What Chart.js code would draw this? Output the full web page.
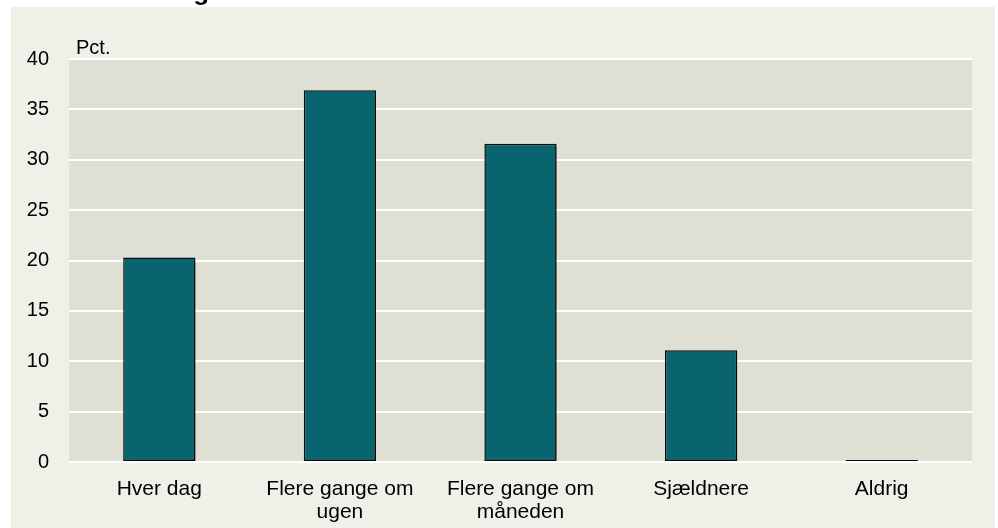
<!DOCTYPE html>
<html>
<head>
<meta charset="utf-8">
<script src="https://cdn.jsdelivr.net/npm/chart.js@4.4.1/dist/chart.umd.min.js"></script>
<style>
html,body{margin:0;padding:0;background:#fff;}
#wrap{width:998px;height:528px;}
</style>
</head>
<body>
<div id="wrap"><canvas id="c" width="998" height="528"></canvas></div>
<script>
const categories = [["Hver dag"], ["Flere gange om", "ugen"], ["Flere gange om", "måneden"], ["Sjældnere"], ["Aldrig"]];
const values = [20.3, 36.9, 31.6, 11.1, 0.2];
const yTicks = [0, 5, 10, 15, 20, 25, 30, 35, 40];
const unitLabel = "Pct.";
const titleText = "Hvor ofte bruger du naturen";

const font = '"Liberation Sans", Arial, sans-serif';

const backdrop = {
    id: 'backdrop',
    beforeDraw(chart){
        const ctx = chart.ctx;
        const a = chart.chartArea;
        ctx.save();
        ctx.fillStyle = '#fff';
        ctx.fillRect(0, 0, chart.width, chart.height);
        ctx.fillStyle = '#f0efe8';
        ctx.fillRect(11, 7, 984, chart.height - 7);
        ctx.fillStyle = '#e0dfd4';
        ctx.fillRect(a.left, a.top, a.right - a.left, a.bottom - a.top);
        ctx.fillStyle = '#000';
        ctx.font = 'bold 26px ' + font;
        ctx.textBaseline = 'alphabetic';
        ctx.fillText(titleText, 30, -0.5);
        ctx.font = '20px ' + font;
        ctx.fillText(unitLabel, a.left + 7, a.top - 5);
        ctx.restore();
    },
    beforeDatasetsDraw(chart){
        const ctx = chart.ctx;
        ctx.save();
        ctx.shadowColor = 'rgba(0,0,0,0.35)';
        ctx.shadowOffsetX = 2;
        ctx.shadowOffsetY = 2;
        ctx.shadowBlur = 1;
    },
    afterDatasetsDraw(chart){
        chart.ctx.restore();
    }
};

new Chart(document.getElementById('c').getContext('2d'), {
    type: 'bar',
    data: {
        labels: categories,
        datasets: [{
            data: values,
            backgroundColor: '#08646f',
            borderColor: '#050f10',
            borderWidth: 1.5,
            borderSkipped: false,
            barPercentage: 0.8,
            categoryPercentage: 0.5
        }]
    },
    options: {
        responsive: false,
        animation: false,
        devicePixelRatio: 1,
        layout: {padding: {left: 0, top: 59, right: 26, bottom: 0}},
        plugins: {legend: {display: false}, tooltip: {enabled: false}},
        scales: {
            x: {
                grid: {display: false, drawTicks: false},
                border: {display: false},
                ticks: {
                    color: '#000',
                    padding: 16,
                    maxRotation: 0,
                    font: {family: font, size: 21, lineHeight: 1.1}
                },
                afterFit(scale){ scale.height = 66; }
            },
            y: {
                min: 0,
                max: 40,
                afterBuildTicks(scale){ scale.ticks = yTicks.map(v => ({value: v})); },
                grid: {color: '#ffffff', lineWidth: 2, drawTicks: false},
                border: {display: false},
                ticks: {
                    color: '#000',
                    padding: 20,
                    font: {family: font, size: 20}
                },
                afterFit(scale){ scale.width = 69; }
            }
        }
    },
    plugins: [backdrop]
});
</script>
</body>
</html>
